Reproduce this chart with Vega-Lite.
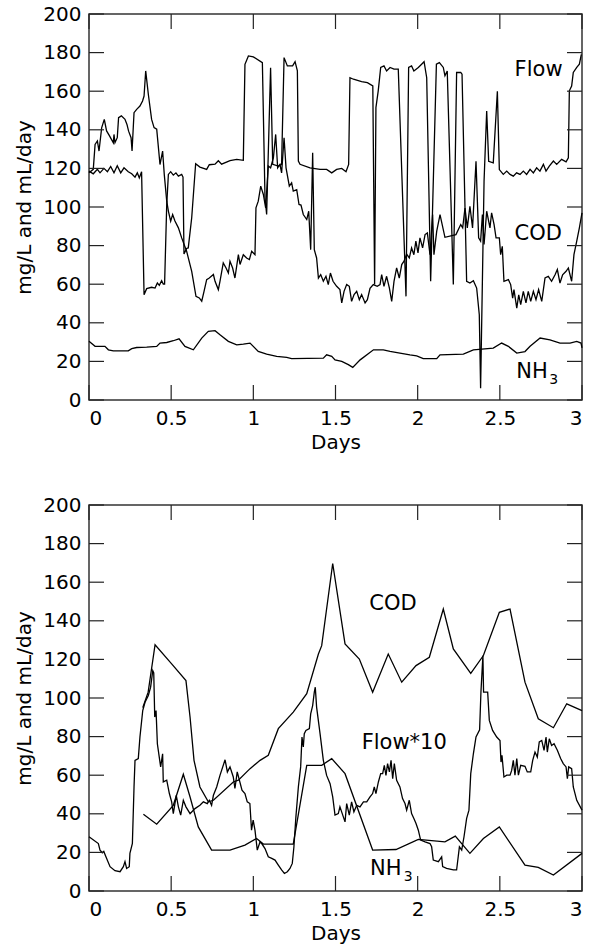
{
"$schema": "https://vega.github.io/schema/vega-lite/v6.json",
"background": "white",
"padding": {"left": 14, "top": 3, "right": 10, "bottom": 5},
"bounds": "flush",
"spacing": 105,
"config": {
  "font": "DejaVu Sans",
  "view": {"stroke": "#333", "strokeWidth": 1.5},
  "axis": {"domain": false, "grid": false, "ticks": false,
    "labelFont": "DejaVu Sans", "labelFontSize": 20, "labelColor": "black", "labelPadding": 8,
    "titleFont": "DejaVu Sans", "titleFontSize": 20, "titleFontWeight": "normal", "titleColor": "black"}
},
"datasets": {
"xticks": [{"v":0},{"v":0.5},{"v":1},{"v":1.5},{"v":2},{"v":2.5},{"v":3}],
"yticks": [{"v":0},{"v":20},{"v":40},{"v":60},{"v":80},{"v":100},{"v":120},{"v":140},{"v":160},{"v":180},{"v":200}],
"top": [
{"s":"Flow","x":0,"y":118.6},{"s":"Flow","x":0.026,"y":117.2},{"s":"Flow","x":0.051,"y":119.5},{"s":"Flow","x":0.067,"y":117.7},{"s":"Flow","x":0.091,"y":120},{"s":"Flow","x":0.112,"y":118.3},{"s":"Flow","x":0.132,"y":121},{"s":"Flow","x":0.152,"y":117.7},{"s":"Flow","x":0.172,"y":121.4},{"s":"Flow","x":0.193,"y":117.7},{"s":"Flow","x":0.213,"y":120.3},{"s":"Flow","x":0.239,"y":118.3},{"s":"Flow","x":0.26,"y":117.2},{"s":"Flow","x":0.28,"y":115.5},{"s":"Flow","x":0.294,"y":117.7},{"s":"Flow","x":0.306,"y":115.1},{"s":"Flow","x":0.32,"y":118.3},{"s":"Flow","x":0.335,"y":54.6},{"s":"Flow","x":0.351,"y":57.7},{"s":"Flow","x":0.381,"y":58.4},{"s":"Flow","x":0.402,"y":58},{"s":"Flow","x":0.416,"y":60.6},{"s":"Flow","x":0.428,"y":59.4},{"s":"Flow","x":0.442,"y":61.8},{"s":"Flow","x":0.452,"y":60.1},{"s":"Flow","x":0.46,"y":60.1},{"s":"Flow","x":0.473,"y":101.3},{"s":"Flow","x":0.483,"y":116.9},{"s":"Flow","x":0.497,"y":118.3},{"s":"Flow","x":0.513,"y":116.5},{"s":"Flow","x":0.529,"y":117.7},{"s":"Flow","x":0.544,"y":116},{"s":"Flow","x":0.564,"y":116.9},{"s":"Flow","x":0.572,"y":115.5},{"s":"Flow","x":0.578,"y":75.7},{"s":"Flow","x":0.594,"y":78.5},{"s":"Flow","x":0.604,"y":78.8},{"s":"Flow","x":0.625,"y":94.4},{"s":"Flow","x":0.649,"y":122.4},{"s":"Flow","x":0.675,"y":120.7},{"s":"Flow","x":0.716,"y":119.5},{"s":"Flow","x":0.732,"y":121.9},{"s":"Flow","x":0.767,"y":122.2},{"s":"Flow","x":0.787,"y":124},{"s":"Flow","x":0.807,"y":122.2},{"s":"Flow","x":0.858,"y":124},{"s":"Flow","x":0.899,"y":124.7},{"s":"Flow","x":0.939,"y":124.2},{"s":"Flow","x":0.949,"y":173.9},{"s":"Flow","x":0.97,"y":178.3},{"s":"Flow","x":1.0,"y":177.8},{"s":"Flow","x":1.055,"y":174.8},{"s":"Flow","x":1.071,"y":104.8},{"s":"Flow","x":1.081,"y":96.1},{"s":"Flow","x":1.105,"y":172.2},{"s":"Flow","x":1.118,"y":122.1},{"s":"Flow","x":1.152,"y":121.2},{"s":"Flow","x":1.172,"y":122.1},{"s":"Flow","x":1.187,"y":177.4},{"s":"Flow","x":1.207,"y":173.1},{"s":"Flow","x":1.239,"y":173.1},{"s":"Flow","x":1.254,"y":175.3},{"s":"Flow","x":1.268,"y":170.5},{"s":"Flow","x":1.274,"y":123.8},{"s":"Flow","x":1.284,"y":122.1},{"s":"Flow","x":1.345,"y":120.3},{"s":"Flow","x":1.406,"y":119.5},{"s":"Flow","x":1.446,"y":119.5},{"s":"Flow","x":1.477,"y":117.7},{"s":"Flow","x":1.507,"y":119.5},{"s":"Flow","x":1.538,"y":120},{"s":"Flow","x":1.564,"y":118.3},{"s":"Flow","x":1.58,"y":122.1},{"s":"Flow","x":1.588,"y":167},{"s":"Flow","x":1.609,"y":166.2},{"s":"Flow","x":1.659,"y":165},{"s":"Flow","x":1.694,"y":164.4},{"s":"Flow","x":1.727,"y":162.7},{"s":"Flow","x":1.738,"y":59.8},{"s":"Flow","x":1.746,"y":151.5},{"s":"Flow","x":1.76,"y":160.2},{"s":"Flow","x":1.775,"y":172.3},{"s":"Flow","x":1.795,"y":173.1},{"s":"Flow","x":1.811,"y":170.5},{"s":"Flow","x":1.832,"y":172.3},{"s":"Flow","x":1.856,"y":171.4},{"s":"Flow","x":1.882,"y":171.4},{"s":"Flow","x":1.929,"y":53.7},{"s":"Flow","x":1.945,"y":172.3},{"s":"Flow","x":1.963,"y":173.1},{"s":"Flow","x":1.977,"y":170.5},{"s":"Flow","x":2.004,"y":172.3},{"s":"Flow","x":2.024,"y":174},{"s":"Flow","x":2.039,"y":175.3},{"s":"Flow","x":2.055,"y":167},{"s":"Flow","x":2.079,"y":61.5},{"s":"Flow","x":2.114,"y":174},{"s":"Flow","x":2.132,"y":174.8},{"s":"Flow","x":2.156,"y":172.3},{"s":"Flow","x":2.166,"y":168},{"s":"Flow","x":2.18,"y":170.5},{"s":"Flow","x":2.217,"y":59.8},{"s":"Flow","x":2.237,"y":169.7},{"s":"Flow","x":2.262,"y":169.7},{"s":"Flow","x":2.27,"y":168.8},{"s":"Flow","x":2.298,"y":61.5},{"s":"Flow","x":2.318,"y":60.6},{"s":"Flow","x":2.339,"y":61.8},{"s":"Flow","x":2.359,"y":58},{"s":"Flow","x":2.375,"y":44.2},{"s":"Flow","x":2.383,"y":6.1},{"s":"Flow","x":2.404,"y":113.4},{"s":"Flow","x":2.42,"y":149.7},{"s":"Flow","x":2.432,"y":123.7},{"s":"Flow","x":2.46,"y":122.9},{"s":"Flow","x":2.485,"y":160},{"s":"Flow","x":2.497,"y":119.4},{"s":"Flow","x":2.521,"y":116.9},{"s":"Flow","x":2.542,"y":118.6},{"s":"Flow","x":2.562,"y":116.9},{"s":"Flow","x":2.582,"y":116},{"s":"Flow","x":2.602,"y":117.7},{"s":"Flow","x":2.623,"y":116.9},{"s":"Flow","x":2.643,"y":118.6},{"s":"Flow","x":2.663,"y":116.9},{"s":"Flow","x":2.684,"y":119.5},{"s":"Flow","x":2.704,"y":117.7},{"s":"Flow","x":2.724,"y":120.3},{"s":"Flow","x":2.744,"y":118.6},{"s":"Flow","x":2.765,"y":122.1},{"s":"Flow","x":2.781,"y":118.6},{"s":"Flow","x":2.801,"y":121.2},{"s":"Flow","x":2.826,"y":123.8},{"s":"Flow","x":2.846,"y":122.1},{"s":"Flow","x":2.876,"y":124.7},{"s":"Flow","x":2.903,"y":123.4},{"s":"Flow","x":2.917,"y":125.5},{"s":"Flow","x":2.923,"y":160.2},{"s":"Flow","x":2.937,"y":162.7},{"s":"Flow","x":2.947,"y":169.7},{"s":"Flow","x":2.968,"y":172.3},{"s":"Flow","x":2.984,"y":174},{"s":"Flow","x":2.996,"y":179.1},
{"s":"COD","x":0,"y":117.7},{"s":"COD","x":0.026,"y":119.5},{"s":"COD","x":0.037,"y":132.4},{"s":"COD","x":0.051,"y":134.2},{"s":"COD","x":0.061,"y":129},{"s":"COD","x":0.077,"y":141},{"s":"COD","x":0.093,"y":145.4},{"s":"COD","x":0.107,"y":139.4},{"s":"COD","x":0.124,"y":137},{"s":"COD","x":0.148,"y":133.3},{"s":"COD","x":0.152,"y":137.6},{"s":"COD","x":0.158,"y":133.3},{"s":"COD","x":0.172,"y":135.9},{"s":"COD","x":0.18,"y":146.3},{"s":"COD","x":0.197,"y":147.2},{"s":"COD","x":0.219,"y":145.4},{"s":"COD","x":0.231,"y":142.8},{"s":"COD","x":0.241,"y":139.3},{"s":"COD","x":0.256,"y":135.9},{"s":"COD","x":0.262,"y":129},{"s":"COD","x":0.274,"y":148.9},{"s":"COD","x":0.29,"y":150.6},{"s":"COD","x":0.31,"y":152.3},{"s":"COD","x":0.326,"y":154.9},{"s":"COD","x":0.335,"y":157.5},{"s":"COD","x":0.345,"y":170.5},{"s":"COD","x":0.361,"y":158.4},{"s":"COD","x":0.381,"y":145.4},{"s":"COD","x":0.396,"y":141.1},{"s":"COD","x":0.412,"y":140.3},{"s":"COD","x":0.432,"y":122},{"s":"COD","x":0.448,"y":129},{"s":"COD","x":0.458,"y":116.9},{"s":"COD","x":0.473,"y":103},{"s":"COD","x":0.483,"y":97.9},{"s":"COD","x":0.497,"y":92.7},{"s":"COD","x":0.509,"y":96.1},{"s":"COD","x":0.523,"y":92.7},{"s":"COD","x":0.544,"y":89.2},{"s":"COD","x":0.564,"y":84},{"s":"COD","x":0.594,"y":77.1},{"s":"COD","x":0.625,"y":66.7},{"s":"COD","x":0.651,"y":53.7},{"s":"COD","x":0.671,"y":52.9},{"s":"COD","x":0.686,"y":51.2},{"s":"COD","x":0.7,"y":56.3},{"s":"COD","x":0.716,"y":62.4},{"s":"COD","x":0.732,"y":63.2},{"s":"COD","x":0.757,"y":65},{"s":"COD","x":0.767,"y":61.5},{"s":"COD","x":0.787,"y":57.2},{"s":"COD","x":0.797,"y":61.5},{"s":"COD","x":0.817,"y":71},{"s":"COD","x":0.834,"y":68.4},{"s":"COD","x":0.848,"y":65.8},{"s":"COD","x":0.858,"y":71.9},{"s":"COD","x":0.874,"y":68.4},{"s":"COD","x":0.888,"y":63.2},{"s":"COD","x":0.909,"y":75.3},{"s":"COD","x":0.919,"y":70.2},{"s":"COD","x":0.939,"y":75.3},{"s":"COD","x":0.959,"y":73.6},{"s":"COD","x":0.976,"y":72.8},{"s":"COD","x":0.99,"y":77.1},{"s":"COD","x":1.01,"y":75.3},{"s":"COD","x":1.016,"y":99.6},{"s":"COD","x":1.03,"y":103},{"s":"COD","x":1.045,"y":110.8},{"s":"COD","x":1.061,"y":106.5},{"s":"COD","x":1.075,"y":99.6},{"s":"COD","x":1.091,"y":121.2},{"s":"COD","x":1.105,"y":120.3},{"s":"COD","x":1.122,"y":125.5},{"s":"COD","x":1.136,"y":137.6},{"s":"COD","x":1.148,"y":120.3},{"s":"COD","x":1.162,"y":122.1},{"s":"COD","x":1.172,"y":117.7},{"s":"COD","x":1.187,"y":135.9},{"s":"COD","x":1.199,"y":120.3},{"s":"COD","x":1.219,"y":110.8},{"s":"COD","x":1.233,"y":112.5},{"s":"COD","x":1.243,"y":108.2},{"s":"COD","x":1.264,"y":109},{"s":"COD","x":1.278,"y":101.3},{"s":"COD","x":1.29,"y":101},{"s":"COD","x":1.304,"y":96.1},{"s":"COD","x":1.325,"y":93.5},{"s":"COD","x":1.337,"y":97.8},{"s":"COD","x":1.349,"y":77.9},{"s":"COD","x":1.361,"y":128.1},{"s":"COD","x":1.371,"y":77.9},{"s":"COD","x":1.385,"y":73.6},{"s":"COD","x":1.396,"y":63.2},{"s":"COD","x":1.41,"y":65},{"s":"COD","x":1.426,"y":61.5},{"s":"COD","x":1.442,"y":64.1},{"s":"COD","x":1.456,"y":59.8},{"s":"COD","x":1.469,"y":65.8},{"s":"COD","x":1.485,"y":61.5},{"s":"COD","x":1.507,"y":58.9},{"s":"COD","x":1.527,"y":57.2},{"s":"COD","x":1.538,"y":50.3},{"s":"COD","x":1.552,"y":56.3},{"s":"COD","x":1.568,"y":59.8},{"s":"COD","x":1.584,"y":58.9},{"s":"COD","x":1.598,"y":51.1},{"s":"COD","x":1.613,"y":54.6},{"s":"COD","x":1.629,"y":56.3},{"s":"COD","x":1.645,"y":52},{"s":"COD","x":1.659,"y":54.6},{"s":"COD","x":1.68,"y":50.3},{"s":"COD","x":1.694,"y":52},{"s":"COD","x":1.71,"y":57.9},{"s":"COD","x":1.73,"y":59.8},{"s":"COD","x":1.754,"y":58.9},{"s":"COD","x":1.771,"y":59.8},{"s":"COD","x":1.781,"y":65},{"s":"COD","x":1.795,"y":58.9},{"s":"COD","x":1.811,"y":64.1},{"s":"COD","x":1.828,"y":58},{"s":"COD","x":1.842,"y":51.1},{"s":"COD","x":1.856,"y":61.5},{"s":"COD","x":1.872,"y":68.4},{"s":"COD","x":1.888,"y":63.2},{"s":"COD","x":1.903,"y":70.2},{"s":"COD","x":1.917,"y":71.9},{"s":"COD","x":1.933,"y":75.6},{"s":"COD","x":1.949,"y":73.6},{"s":"COD","x":1.963,"y":78.8},{"s":"COD","x":1.977,"y":75.3},{"s":"COD","x":1.989,"y":82.3},{"s":"COD","x":2.002,"y":76.2},{"s":"COD","x":2.014,"y":84},{"s":"COD","x":2.03,"y":78.8},{"s":"COD","x":2.045,"y":85.7},{"s":"COD","x":2.059,"y":86.6},{"s":"COD","x":2.075,"y":75.3},{"s":"COD","x":2.091,"y":96.1},{"s":"COD","x":2.099,"y":75.3},{"s":"COD","x":2.116,"y":87.5},{"s":"COD","x":2.136,"y":96.1},{"s":"COD","x":2.166,"y":84.3},{"s":"COD","x":2.233,"y":85.7},{"s":"COD","x":2.262,"y":90.9},{"s":"COD","x":2.274,"y":89.2},{"s":"COD","x":2.288,"y":99.5},{"s":"COD","x":2.302,"y":89.2},{"s":"COD","x":2.318,"y":100.4},{"s":"COD","x":2.334,"y":89.2},{"s":"COD","x":2.355,"y":123.7},{"s":"COD","x":2.371,"y":84},{"s":"COD","x":2.383,"y":82.3},{"s":"COD","x":2.394,"y":96.1},{"s":"COD","x":2.404,"y":80.6},{"s":"COD","x":2.42,"y":97.8},{"s":"COD","x":2.44,"y":89.2},{"s":"COD","x":2.45,"y":97},{"s":"COD","x":2.465,"y":90.9},{"s":"COD","x":2.477,"y":84},{"s":"COD","x":2.497,"y":84},{"s":"COD","x":2.505,"y":75.3},{"s":"COD","x":2.515,"y":79.6},{"s":"COD","x":2.525,"y":61.5},{"s":"COD","x":2.552,"y":62.4},{"s":"COD","x":2.566,"y":59.8},{"s":"COD","x":2.578,"y":52.8},{"s":"COD","x":2.586,"y":57.2},{"s":"COD","x":2.603,"y":47.6},{"s":"COD","x":2.615,"y":54.5},{"s":"COD","x":2.627,"y":49.4},{"s":"COD","x":2.643,"y":56.3},{"s":"COD","x":2.659,"y":50.3},{"s":"COD","x":2.673,"y":56.3},{"s":"COD","x":2.688,"y":51.1},{"s":"COD","x":2.704,"y":56.3},{"s":"COD","x":2.72,"y":52},{"s":"COD","x":2.736,"y":57.2},{"s":"COD","x":2.755,"y":51.1},{"s":"COD","x":2.775,"y":63.2},{"s":"COD","x":2.795,"y":64.1},{"s":"COD","x":2.815,"y":61.5},{"s":"COD","x":2.836,"y":64.9},{"s":"COD","x":2.85,"y":67.6},{"s":"COD","x":2.866,"y":60.6},{"s":"COD","x":2.882,"y":64.9},{"s":"COD","x":2.903,"y":66.7},{"s":"COD","x":2.917,"y":68.4},{"s":"COD","x":2.937,"y":61.5},{"s":"COD","x":2.951,"y":75.3},{"s":"COD","x":2.968,"y":82.3},{"s":"COD","x":2.984,"y":89.2},{"s":"COD","x":3.0,"y":97},
{"s":"NH3","x":0,"y":30.4},{"s":"NH3","x":0.037,"y":27.8},{"s":"NH3","x":0.097,"y":27.8},{"s":"NH3","x":0.118,"y":26},{"s":"NH3","x":0.148,"y":25.5},{"s":"NH3","x":0.239,"y":25.5},{"s":"NH3","x":0.26,"y":26.6},{"s":"NH3","x":0.29,"y":27.2},{"s":"NH3","x":0.351,"y":27.4},{"s":"NH3","x":0.412,"y":27.8},{"s":"NH3","x":0.432,"y":29.5},{"s":"NH3","x":0.473,"y":29.8},{"s":"NH3","x":0.513,"y":30.7},{"s":"NH3","x":0.548,"y":31.7},{"s":"NH3","x":0.584,"y":27.8},{"s":"NH3","x":0.635,"y":26},{"s":"NH3","x":0.686,"y":32.1},{"s":"NH3","x":0.726,"y":35.6},{"s":"NH3","x":0.767,"y":35.9},{"s":"NH3","x":0.797,"y":33.8},{"s":"NH3","x":0.848,"y":30.4},{"s":"NH3","x":0.899,"y":28.6},{"s":"NH3","x":0.939,"y":29},{"s":"NH3","x":0.98,"y":29.5},{"s":"NH3","x":1.03,"y":25.2},{"s":"NH3","x":1.081,"y":23.8},{"s":"NH3","x":1.142,"y":22.6},{"s":"NH3","x":1.203,"y":22.1},{"s":"NH3","x":1.233,"y":21.4},{"s":"NH3","x":1.426,"y":21.7},{"s":"NH3","x":1.446,"y":23.4},{"s":"NH3","x":1.477,"y":22.6},{"s":"NH3","x":1.497,"y":20.8},{"s":"NH3","x":1.538,"y":20},{"s":"NH3","x":1.578,"y":18.3},{"s":"NH3","x":1.605,"y":16.9},{"s":"NH3","x":1.65,"y":20.8},{"s":"NH3","x":1.731,"y":26},{"s":"NH3","x":1.791,"y":26},{"s":"NH3","x":1.832,"y":25.2},{"s":"NH3","x":1.892,"y":24.3},{"s":"NH3","x":1.953,"y":23.4},{"s":"NH3","x":1.994,"y":22.9},{"s":"NH3","x":2.034,"y":21.4},{"s":"NH3","x":2.116,"y":21.4},{"s":"NH3","x":2.136,"y":23.4},{"s":"NH3","x":2.278,"y":23.8},{"s":"NH3","x":2.339,"y":26},{"s":"NH3","x":2.46,"y":26.9},{"s":"NH3","x":2.511,"y":29.5},{"s":"NH3","x":2.552,"y":27.8},{"s":"NH3","x":2.603,"y":24.3},{"s":"NH3","x":2.653,"y":25.1},{"s":"NH3","x":2.684,"y":27.8},{"s":"NH3","x":2.745,"y":32.1},{"s":"NH3","x":2.805,"y":31.2},{"s":"NH3","x":2.866,"y":29.5},{"s":"NH3","x":2.927,"y":29.5},{"s":"NH3","x":2.968,"y":30.4},{"s":"NH3","x":2.994,"y":29.5},{"s":"NH3","x":3.0,"y":27}
],
"bottom": [
{"s":"Flow10","x":0,"y":28.1},{"s":"Flow10","x":0.057,"y":24.6},{"s":"Flow10","x":0.067,"y":21.2},{"s":"Flow10","x":0.081,"y":19.8},{"s":"Flow10","x":0.09,"y":20.5},{"s":"Flow10","x":0.103,"y":17.7},{"s":"Flow10","x":0.128,"y":12.6},{"s":"Flow10","x":0.158,"y":10.5},{"s":"Flow10","x":0.189,"y":10},{"s":"Flow10","x":0.209,"y":12.6},{"s":"Flow10","x":0.219,"y":15.2},{"s":"Flow10","x":0.229,"y":11.7},{"s":"Flow10","x":0.245,"y":12.6},{"s":"Flow10","x":0.249,"y":19.5},{"s":"Flow10","x":0.264,"y":24.6},{"s":"Flow10","x":0.274,"y":53.9},{"s":"Flow10","x":0.28,"y":67.7},{"s":"Flow10","x":0.3,"y":68.6},{"s":"Flow10","x":0.31,"y":79.8},{"s":"Flow10","x":0.327,"y":93.5},{"s":"Flow10","x":0.341,"y":97.8},{"s":"Flow10","x":0.361,"y":101.3},{"s":"Flow10","x":0.375,"y":105.6},{"s":"Flow10","x":0.388,"y":114.2},{"s":"Flow10","x":0.394,"y":113},{"s":"Flow10","x":0.4,"y":90.1},{"s":"Flow10","x":0.408,"y":93.5},{"s":"Flow10","x":0.416,"y":76.3},{"s":"Flow10","x":0.436,"y":64.3},{"s":"Flow10","x":0.448,"y":71.1},{"s":"Flow10","x":0.452,"y":56.5},{"s":"Flow10","x":0.473,"y":57.4},{"s":"Flow10","x":0.489,"y":50.5},{"s":"Flow10","x":0.503,"y":46.2},{"s":"Flow10","x":0.513,"y":40.1},{"s":"Flow10","x":0.531,"y":49.6},{"s":"Flow10","x":0.544,"y":43.6},{"s":"Flow10","x":0.558,"y":39.3},{"s":"Flow10","x":0.574,"y":47},{"s":"Flow10","x":0.59,"y":43.6},{"s":"Flow10","x":0.615,"y":40.1},{"s":"Flow10","x":0.645,"y":42.7},{"s":"Flow10","x":0.675,"y":44.4},{"s":"Flow10","x":0.696,"y":46.2},{"s":"Flow10","x":0.72,"y":45.3},{"s":"Flow10","x":0.732,"y":47},{"s":"Flow10","x":0.746,"y":44.4},{"s":"Flow10","x":0.757,"y":49.6},{"s":"Flow10","x":0.777,"y":53.9},{"s":"Flow10","x":0.797,"y":59.9},{"s":"Flow10","x":0.828,"y":68},{"s":"Flow10","x":0.842,"y":61.7},{"s":"Flow10","x":0.858,"y":64.3},{"s":"Flow10","x":0.878,"y":59.1},{"s":"Flow10","x":0.888,"y":53.1},{"s":"Flow10","x":0.902,"y":61.7},{"s":"Flow10","x":0.931,"y":52.2},{"s":"Flow10","x":0.949,"y":50.5},{"s":"Flow10","x":0.963,"y":46.2},{"s":"Flow10","x":0.979,"y":45.3},{"s":"Flow10","x":0.989,"y":31.5},{"s":"Flow10","x":0.999,"y":36.7},{"s":"Flow10","x":1.01,"y":31.5},{"s":"Flow10","x":1.024,"y":21.2},{"s":"Flow10","x":1.041,"y":25.5},{"s":"Flow10","x":1.051,"y":24.6},{"s":"Flow10","x":1.071,"y":22},{"s":"Flow10","x":1.091,"y":17.7},{"s":"Flow10","x":1.112,"y":16.9},{"s":"Flow10","x":1.132,"y":16},{"s":"Flow10","x":1.152,"y":13.4},{"s":"Flow10","x":1.172,"y":10.9},{"s":"Flow10","x":1.189,"y":9.1},{"s":"Flow10","x":1.207,"y":10},{"s":"Flow10","x":1.223,"y":11.7},{"s":"Flow10","x":1.237,"y":14.3},{"s":"Flow10","x":1.247,"y":22.9},{"s":"Flow10","x":1.259,"y":38.4},{"s":"Flow10","x":1.274,"y":53.9},{"s":"Flow10","x":1.288,"y":64.3},{"s":"Flow10","x":1.296,"y":79.8},{"s":"Flow10","x":1.304,"y":74.6},{"s":"Flow10","x":1.31,"y":81.5},{"s":"Flow10","x":1.32,"y":83.2},{"s":"Flow10","x":1.341,"y":84.1},{"s":"Flow10","x":1.349,"y":91.8},{"s":"Flow10","x":1.361,"y":96.1},{"s":"Flow10","x":1.371,"y":103},{"s":"Flow10","x":1.377,"y":105.6},{"s":"Flow10","x":1.385,"y":95.3},{"s":"Flow10","x":1.406,"y":81.5},{"s":"Flow10","x":1.426,"y":67.7},{"s":"Flow10","x":1.446,"y":59.9},{"s":"Flow10","x":1.467,"y":55.6},{"s":"Flow10","x":1.483,"y":48.8},{"s":"Flow10","x":1.497,"y":39.3},{"s":"Flow10","x":1.517,"y":40.1},{"s":"Flow10","x":1.527,"y":43.6},{"s":"Flow10","x":1.541,"y":40.1},{"s":"Flow10","x":1.558,"y":35.8},{"s":"Flow10","x":1.568,"y":45.3},{"s":"Flow10","x":1.584,"y":39.3},{"s":"Flow10","x":1.598,"y":46.2},{"s":"Flow10","x":1.612,"y":41},{"s":"Flow10","x":1.629,"y":44.4},{"s":"Flow10","x":1.649,"y":43.6},{"s":"Flow10","x":1.67,"y":46.2},{"s":"Flow10","x":1.69,"y":46.2},{"s":"Flow10","x":1.71,"y":48.8},{"s":"Flow10","x":1.726,"y":50.5},{"s":"Flow10","x":1.736,"y":53.9},{"s":"Flow10","x":1.746,"y":50.5},{"s":"Flow10","x":1.761,"y":56.5},{"s":"Flow10","x":1.775,"y":60.8},{"s":"Flow10","x":1.787,"y":60.8},{"s":"Flow10","x":1.797,"y":65.1},{"s":"Flow10","x":1.807,"y":59.9},{"s":"Flow10","x":1.817,"y":66},{"s":"Flow10","x":1.828,"y":61.7},{"s":"Flow10","x":1.838,"y":67.7},{"s":"Flow10","x":1.848,"y":58.2},{"s":"Flow10","x":1.858,"y":66},{"s":"Flow10","x":1.872,"y":57.4},{"s":"Flow10","x":1.892,"y":53.9},{"s":"Flow10","x":1.908,"y":47.9},{"s":"Flow10","x":1.923,"y":45.3},{"s":"Flow10","x":1.933,"y":41.9},{"s":"Flow10","x":1.949,"y":47},{"s":"Flow10","x":1.963,"y":40.1},{"s":"Flow10","x":1.977,"y":37.6},{"s":"Flow10","x":1.99,"y":35},{"s":"Flow10","x":2.004,"y":31.5},{"s":"Flow10","x":2.018,"y":26.4},{"s":"Flow10","x":2.045,"y":25.5},{"s":"Flow10","x":2.075,"y":24.6},{"s":"Flow10","x":2.085,"y":22.9},{"s":"Flow10","x":2.095,"y":16},{"s":"Flow10","x":2.126,"y":15.2},{"s":"Flow10","x":2.146,"y":17.7},{"s":"Flow10","x":2.152,"y":12.6},{"s":"Flow10","x":2.176,"y":11.7},{"s":"Flow10","x":2.217,"y":10.9},{"s":"Flow10","x":2.237,"y":10.9},{"s":"Flow10","x":2.254,"y":22.9},{"s":"Flow10","x":2.268,"y":21.2},{"s":"Flow10","x":2.282,"y":28.1},{"s":"Flow10","x":2.298,"y":37.6},{"s":"Flow10","x":2.312,"y":41.9},{"s":"Flow10","x":2.323,"y":60.8},{"s":"Flow10","x":2.339,"y":71.1},{"s":"Flow10","x":2.355,"y":79.8},{"s":"Flow10","x":2.377,"y":83.5},{"s":"Flow10","x":2.385,"y":103},{"s":"Flow10","x":2.397,"y":122},{"s":"Flow10","x":2.401,"y":103},{"s":"Flow10","x":2.426,"y":103},{"s":"Flow10","x":2.436,"y":88.4},{"s":"Flow10","x":2.456,"y":83.2},{"s":"Flow10","x":2.481,"y":79.8},{"s":"Flow10","x":2.501,"y":78},{"s":"Flow10","x":2.507,"y":66.8},{"s":"Flow10","x":2.513,"y":70.3},{"s":"Flow10","x":2.525,"y":59.1},{"s":"Flow10","x":2.542,"y":60},{"s":"Flow10","x":2.562,"y":60},{"s":"Flow10","x":2.572,"y":62.5},{"s":"Flow10","x":2.582,"y":67.7},{"s":"Flow10","x":2.592,"y":60},{"s":"Flow10","x":2.603,"y":68.6},{"s":"Flow10","x":2.613,"y":60},{"s":"Flow10","x":2.627,"y":65.1},{"s":"Flow10","x":2.653,"y":64.6},{"s":"Flow10","x":2.667,"y":61.7},{"s":"Flow10","x":2.688,"y":61.7},{"s":"Flow10","x":2.7,"y":67.7},{"s":"Flow10","x":2.714,"y":72},{"s":"Flow10","x":2.728,"y":69.4},{"s":"Flow10","x":2.74,"y":77.2},{"s":"Flow10","x":2.755,"y":78},{"s":"Flow10","x":2.769,"y":72.9},{"s":"Flow10","x":2.781,"y":79.8},{"s":"Flow10","x":2.789,"y":72},{"s":"Flow10","x":2.801,"y":78.9},{"s":"Flow10","x":2.815,"y":75.4},{"s":"Flow10","x":2.83,"y":76.3},{"s":"Flow10","x":2.85,"y":72.9},{"s":"Flow10","x":2.87,"y":68.6},{"s":"Flow10","x":2.886,"y":66},{"s":"Flow10","x":2.903,"y":64.3},{"s":"Flow10","x":2.911,"y":58.2},{"s":"Flow10","x":2.919,"y":64.3},{"s":"Flow10","x":2.937,"y":63.4},{"s":"Flow10","x":2.947,"y":53.9},{"s":"Flow10","x":2.968,"y":47},{"s":"Flow10","x":3.0,"y":41.9},
{"s":"NH3","x":0.331,"y":39.8},{"s":"NH3","x":0.412,"y":34.6},{"s":"NH3","x":0.513,"y":44.4},{"s":"NH3","x":0.574,"y":60.5},{"s":"NH3","x":0.615,"y":48.7},{"s":"NH3","x":0.665,"y":33.2},{"s":"NH3","x":0.746,"y":21.2},{"s":"NH3","x":0.858,"y":21.2},{"s":"NH3","x":0.949,"y":23.8},{"s":"NH3","x":1.02,"y":27.2},{"s":"NH3","x":1.061,"y":24.3},{"s":"NH3","x":1.243,"y":24.3},{"s":"NH3","x":1.325,"y":65.1},{"s":"NH3","x":1.416,"y":65.1},{"s":"NH3","x":1.477,"y":68.6},{"s":"NH3","x":1.558,"y":60.8},{"s":"NH3","x":1.726,"y":21.2},{"s":"NH3","x":1.868,"y":21.5},{"s":"NH3","x":2.004,"y":26.7},{"s":"NH3","x":2.166,"y":25.5},{"s":"NH3","x":2.229,"y":28.4},{"s":"NH3","x":2.318,"y":19.5},{"s":"NH3","x":2.4,"y":27.2},{"s":"NH3","x":2.497,"y":33.2},{"s":"NH3","x":2.653,"y":13.4},{"s":"NH3","x":2.734,"y":12.2},{"s":"NH3","x":2.826,"y":8.3},{"s":"NH3","x":3.0,"y":19.5},
{"s":"COD","x":0.327,"y":95},{"s":"COD","x":0.36,"y":103},{"s":"COD","x":0.402,"y":127.6},{"s":"COD","x":0.503,"y":117.7},{"s":"COD","x":0.59,"y":109},{"s":"COD","x":0.615,"y":90},{"s":"COD","x":0.639,"y":67.7},{"s":"COD","x":0.675,"y":53.9},{"s":"COD","x":0.726,"y":46.2},{"s":"COD","x":0.757,"y":47},{"s":"COD","x":0.878,"y":56.5},{"s":"COD","x":0.909,"y":57.4},{"s":"COD","x":0.98,"y":63.4},{"s":"COD","x":1.041,"y":67.7},{"s":"COD","x":1.091,"y":70.3},{"s":"COD","x":1.152,"y":84.1},{"s":"COD","x":1.243,"y":92.7},{"s":"COD","x":1.325,"y":102.2},{"s":"COD","x":1.396,"y":122.8},{"s":"COD","x":1.416,"y":127.1},{"s":"COD","x":1.483,"y":169.7},{"s":"COD","x":1.558,"y":128},{"s":"COD","x":1.645,"y":120.2},{"s":"COD","x":1.726,"y":103},{"s":"COD","x":1.821,"y":122.8},{"s":"COD","x":1.903,"y":108.2},{"s":"COD","x":1.99,"y":116.8},{"s":"COD","x":2.071,"y":121.1},{"s":"COD","x":2.156,"y":146.1},{"s":"COD","x":2.217,"y":125.4},{"s":"COD","x":2.323,"y":112.8},{"s":"COD","x":2.4,"y":122},{"s":"COD","x":2.497,"y":144.4},{"s":"COD","x":2.562,"y":146.1},{"s":"COD","x":2.653,"y":108.2},{"s":"COD","x":2.734,"y":89.2},{"s":"COD","x":2.826,"y":84.6},{"s":"COD","x":2.907,"y":97},{"s":"COD","x":3.0,"y":93.5}
],
"topLabels": [{"t":"Flow","x":2.59,"y":171},{"t":"COD","x":2.59,"y":86},{"t":"NH","x":2.6,"y":14.3}],
"topSub": [{"t":"3","x":2.8,"y":10.3}],
"bottomLabels": [{"t":"COD","x":1.706,"y":148.7},{"t":"Flow*10","x":1.659,"y":76.7},{"t":"NH","x":1.71,"y":11.4}],
"bottomSub": [{"t":"3","x":1.915,"y":7.2}]
},
"vconcat": [
{
 "width": 493, "height": 386,
 "layer": [
  {"data": {"name": "top"},
   "mark": {"type": "line", "color": "black", "strokeWidth": 1.3},
   "encoding": {
    "x": {"field": "x", "type": "quantitative", "scale": {"domain": [0, 3], "nice": false}, "axis": {"title": "Days", "titlePadding": 4, "ticks": false, "values": [0, 0.5, 1, 1.5, 2, 2.5, 3], "format": "~g"}},
    "y": {"field": "y", "type": "quantitative", "scale": {"domain": [0, 200], "nice": false}, "axis": {"title": "mg/L and mL/day", "titlePadding": 8, "ticks": false, "values": [0, 20, 40, 60, 80, 100, 120, 140, 160, 180, 200]}},
    "detail": {"field": "s"},
    "order": {"value": null}
   }},
  {"data": {"name": "xticks"}, "mark": {"type": "tick", "orient": "vertical", "size": 15, "thickness": 1.2, "color": "#222", "opacity": 1},
   "encoding": {
    "x": {"field": "v", "type": "quantitative", "axis": {"title": "Days", "titlePadding": 4, "ticks": false, "values": [0, 0.5, 1, 1.5, 2, 2.5, 3], "format": "~g"}},
    "y": {"datum": 3.9, "type": "quantitative", "axis": {"title": "mg/L and mL/day", "titlePadding": 8, "ticks": false, "values": [0, 20, 40, 60, 80, 100, 120, 140, 160, 180, 200]}}}},
  {"data": {"name": "xticks"}, "mark": {"type": "tick", "orient": "vertical", "size": 15, "thickness": 1.2, "color": "#222", "opacity": 1},
   "encoding": {
    "x": {"field": "v", "type": "quantitative", "axis": {"title": "Days", "titlePadding": 4, "ticks": false, "values": [0, 0.5, 1, 1.5, 2, 2.5, 3], "format": "~g"}},
    "y": {"datum": 196.1, "type": "quantitative", "axis": {"title": "mg/L and mL/day", "titlePadding": 8, "ticks": false, "values": [0, 20, 40, 60, 80, 100, 120, 140, 160, 180, 200]}}}},
  {"data": {"name": "yticks"}, "mark": {"type": "tick", "orient": "horizontal", "size": 15, "thickness": 1.2, "color": "#222", "opacity": 1},
   "encoding": {
    "y": {"field": "v", "type": "quantitative", "axis": {"title": "mg/L and mL/day", "titlePadding": 8, "ticks": false, "values": [0, 20, 40, 60, 80, 100, 120, 140, 160, 180, 200]}},
    "x": {"datum": 0.0456, "type": "quantitative", "axis": {"title": "Days", "titlePadding": 4, "ticks": false, "values": [0, 0.5, 1, 1.5, 2, 2.5, 3], "format": "~g"}}}},
  {"data": {"name": "yticks"}, "mark": {"type": "tick", "orient": "horizontal", "size": 15, "thickness": 1.2, "color": "#222", "opacity": 1},
   "encoding": {
    "y": {"field": "v", "type": "quantitative", "axis": {"title": "mg/L and mL/day", "titlePadding": 8, "ticks": false, "values": [0, 20, 40, 60, 80, 100, 120, 140, 160, 180, 200]}},
    "x": {"datum": 2.9544, "type": "quantitative", "axis": {"title": "Days", "titlePadding": 4, "ticks": false, "values": [0, 0.5, 1, 1.5, 2, 2.5, 3], "format": "~g"}}}},
  {"data": {"name": "topLabels"},
   "mark": {"type": "text", "align": "left", "baseline": "middle", "fontSize": 21, "font": "DejaVu Sans", "color": "black"},
   "encoding": {
    "x": {"field": "x", "type": "quantitative", "axis": {"title": "Days", "titlePadding": 4, "ticks": false, "values": [0, 0.5, 1, 1.5, 2, 2.5, 3], "format": "~g"}},
    "y": {"field": "y", "type": "quantitative", "axis": {"title": "mg/L and mL/day", "titlePadding": 8, "ticks": false, "values": [0, 20, 40, 60, 80, 100, 120, 140, 160, 180, 200]}},
    "text": {"field": "t"}
   }},
  {"data": {"name": "topSub"},
   "mark": {"type": "text", "align": "left", "baseline": "middle", "fontSize": 14, "font": "DejaVu Sans", "color": "black"},
   "encoding": {
    "x": {"field": "x", "type": "quantitative", "axis": {"title": "Days", "titlePadding": 4, "ticks": false, "values": [0, 0.5, 1, 1.5, 2, 2.5, 3], "format": "~g"}},
    "y": {"field": "y", "type": "quantitative", "axis": {"title": "mg/L and mL/day", "titlePadding": 8, "ticks": false, "values": [0, 20, 40, 60, 80, 100, 120, 140, 160, 180, 200]}},
    "text": {"field": "t"}
   }}
 ]
},
{
 "width": 493, "height": 386,
 "layer": [
  {"data": {"name": "bottom"},
   "mark": {"type": "line", "color": "black", "strokeWidth": 1.3},
   "encoding": {
    "x": {"field": "x", "type": "quantitative", "scale": {"domain": [0, 3], "nice": false}, "axis": {"title": "Days", "titlePadding": 4, "ticks": false, "values": [0, 0.5, 1, 1.5, 2, 2.5, 3], "format": "~g"}},
    "y": {"field": "y", "type": "quantitative", "scale": {"domain": [0, 200], "nice": false}, "axis": {"title": "mg/L and mL/day", "titlePadding": 8, "ticks": false, "values": [0, 20, 40, 60, 80, 100, 120, 140, 160, 180, 200]}},
    "detail": {"field": "s"},
    "order": {"value": null}
   }},
  {"data": {"name": "xticks"}, "mark": {"type": "tick", "orient": "vertical", "size": 15, "thickness": 1.2, "color": "#222", "opacity": 1},
   "encoding": {
    "x": {"field": "v", "type": "quantitative", "axis": {"title": "Days", "titlePadding": 4, "ticks": false, "values": [0, 0.5, 1, 1.5, 2, 2.5, 3], "format": "~g"}},
    "y": {"datum": 3.9, "type": "quantitative", "axis": {"title": "mg/L and mL/day", "titlePadding": 8, "ticks": false, "values": [0, 20, 40, 60, 80, 100, 120, 140, 160, 180, 200]}}}},
  {"data": {"name": "xticks"}, "mark": {"type": "tick", "orient": "vertical", "size": 15, "thickness": 1.2, "color": "#222", "opacity": 1},
   "encoding": {
    "x": {"field": "v", "type": "quantitative", "axis": {"title": "Days", "titlePadding": 4, "ticks": false, "values": [0, 0.5, 1, 1.5, 2, 2.5, 3], "format": "~g"}},
    "y": {"datum": 196.1, "type": "quantitative", "axis": {"title": "mg/L and mL/day", "titlePadding": 8, "ticks": false, "values": [0, 20, 40, 60, 80, 100, 120, 140, 160, 180, 200]}}}},
  {"data": {"name": "yticks"}, "mark": {"type": "tick", "orient": "horizontal", "size": 15, "thickness": 1.2, "color": "#222", "opacity": 1},
   "encoding": {
    "y": {"field": "v", "type": "quantitative", "axis": {"title": "mg/L and mL/day", "titlePadding": 8, "ticks": false, "values": [0, 20, 40, 60, 80, 100, 120, 140, 160, 180, 200]}},
    "x": {"datum": 0.0456, "type": "quantitative", "axis": {"title": "Days", "titlePadding": 4, "ticks": false, "values": [0, 0.5, 1, 1.5, 2, 2.5, 3], "format": "~g"}}}},
  {"data": {"name": "yticks"}, "mark": {"type": "tick", "orient": "horizontal", "size": 15, "thickness": 1.2, "color": "#222", "opacity": 1},
   "encoding": {
    "y": {"field": "v", "type": "quantitative", "axis": {"title": "mg/L and mL/day", "titlePadding": 8, "ticks": false, "values": [0, 20, 40, 60, 80, 100, 120, 140, 160, 180, 200]}},
    "x": {"datum": 2.9544, "type": "quantitative", "axis": {"title": "Days", "titlePadding": 4, "ticks": false, "values": [0, 0.5, 1, 1.5, 2, 2.5, 3], "format": "~g"}}}},
  {"data": {"name": "bottomLabels"},
   "mark": {"type": "text", "align": "left", "baseline": "middle", "fontSize": 21, "font": "DejaVu Sans", "color": "black"},
   "encoding": {
    "x": {"field": "x", "type": "quantitative", "axis": {"title": "Days", "titlePadding": 4, "ticks": false, "values": [0, 0.5, 1, 1.5, 2, 2.5, 3], "format": "~g"}},
    "y": {"field": "y", "type": "quantitative", "axis": {"title": "mg/L and mL/day", "titlePadding": 8, "ticks": false, "values": [0, 20, 40, 60, 80, 100, 120, 140, 160, 180, 200]}},
    "text": {"field": "t"}
   }},
  {"data": {"name": "bottomSub"},
   "mark": {"type": "text", "align": "left", "baseline": "middle", "fontSize": 14, "font": "DejaVu Sans", "color": "black"},
   "encoding": {
    "x": {"field": "x", "type": "quantitative", "axis": {"title": "Days", "titlePadding": 4, "ticks": false, "values": [0, 0.5, 1, 1.5, 2, 2.5, 3], "format": "~g"}},
    "y": {"field": "y", "type": "quantitative", "axis": {"title": "mg/L and mL/day", "titlePadding": 8, "ticks": false, "values": [0, 20, 40, 60, 80, 100, 120, 140, 160, 180, 200]}},
    "text": {"field": "t"}
   }}
 ]
}
]
}
